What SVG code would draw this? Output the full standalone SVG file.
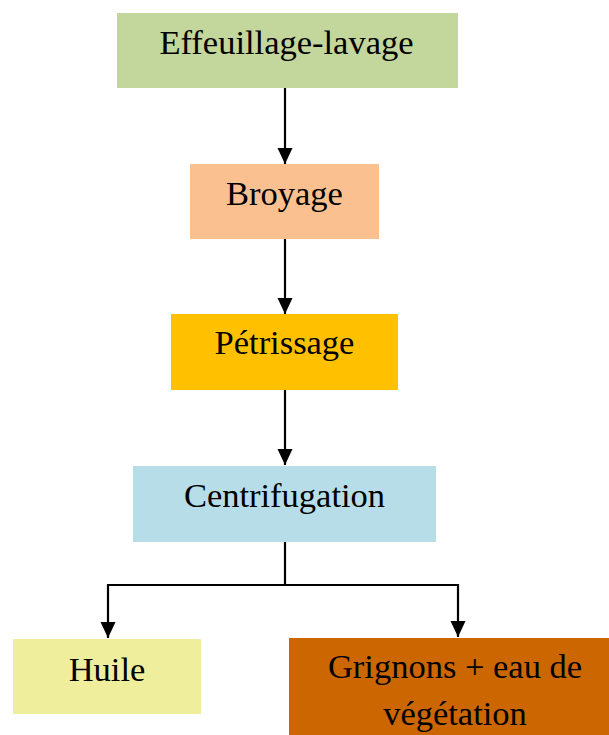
<svg xmlns="http://www.w3.org/2000/svg" width="609" height="735" viewBox="0 0 609 735">
<defs>
<style>
text{font-family:"Liberation Serif","Times New Roman",serif;font-size:34.5px;fill:#000;text-anchor:middle}
.c{stroke:#000;stroke-width:2.2;fill:none}
</style>
<marker id="ah" markerUnits="userSpaceOnUse" markerWidth="18" markerHeight="18" viewBox="0 0 18 18" refX="16" refY="9" orient="auto">
<path d="M0,1.5 L16,9 L0,16.5 Z" fill="#000"/>
</marker>
</defs>
<rect width="609" height="735" fill="#fff"/>
<g id="n1"><rect x="117" y="13" width="341" height="75" fill="#c3d69b"/><text x="286.5" y="54">Effeuillage-lavage</text></g>
<g id="n2"><rect x="190" y="164" width="189" height="75" fill="#fac090"/><text x="284.5" y="205">Broyage</text></g>
<g id="n3"><rect x="171" y="314" width="227" height="76" fill="#ffc000"/><text x="284.5" y="354">Pétrissage</text></g>
<g id="n4"><rect x="133" y="466" width="303" height="76" fill="#b7dee8"/><text x="284.5" y="507">Centrifugation</text></g>
<g id="n5"><rect x="13" y="639" width="188" height="75" fill="#eeee9c"/><text x="107" y="681">Huile</text></g>
<g id="n6"><rect x="289" y="638" width="325" height="100" fill="#cc6600"/><text x="455" y="678">Grignons + eau de</text><text x="455" y="725">végétation</text></g>
<g id="connectors">
<line class="c" x1="285" y1="88" x2="285" y2="164" marker-end="url(#ah)"/>
<line class="c" x1="285" y1="239" x2="285" y2="314" marker-end="url(#ah)"/>
<line class="c" x1="285" y1="390" x2="285" y2="465" marker-end="url(#ah)"/>
<polyline class="c" points="285,542 285,585"/>
<polyline class="c" points="285,585 108,585 108,638" marker-end="url(#ah)"/>
<polyline class="c" points="285,585 458,585 458,637" marker-end="url(#ah)"/>
</g>
</svg>
